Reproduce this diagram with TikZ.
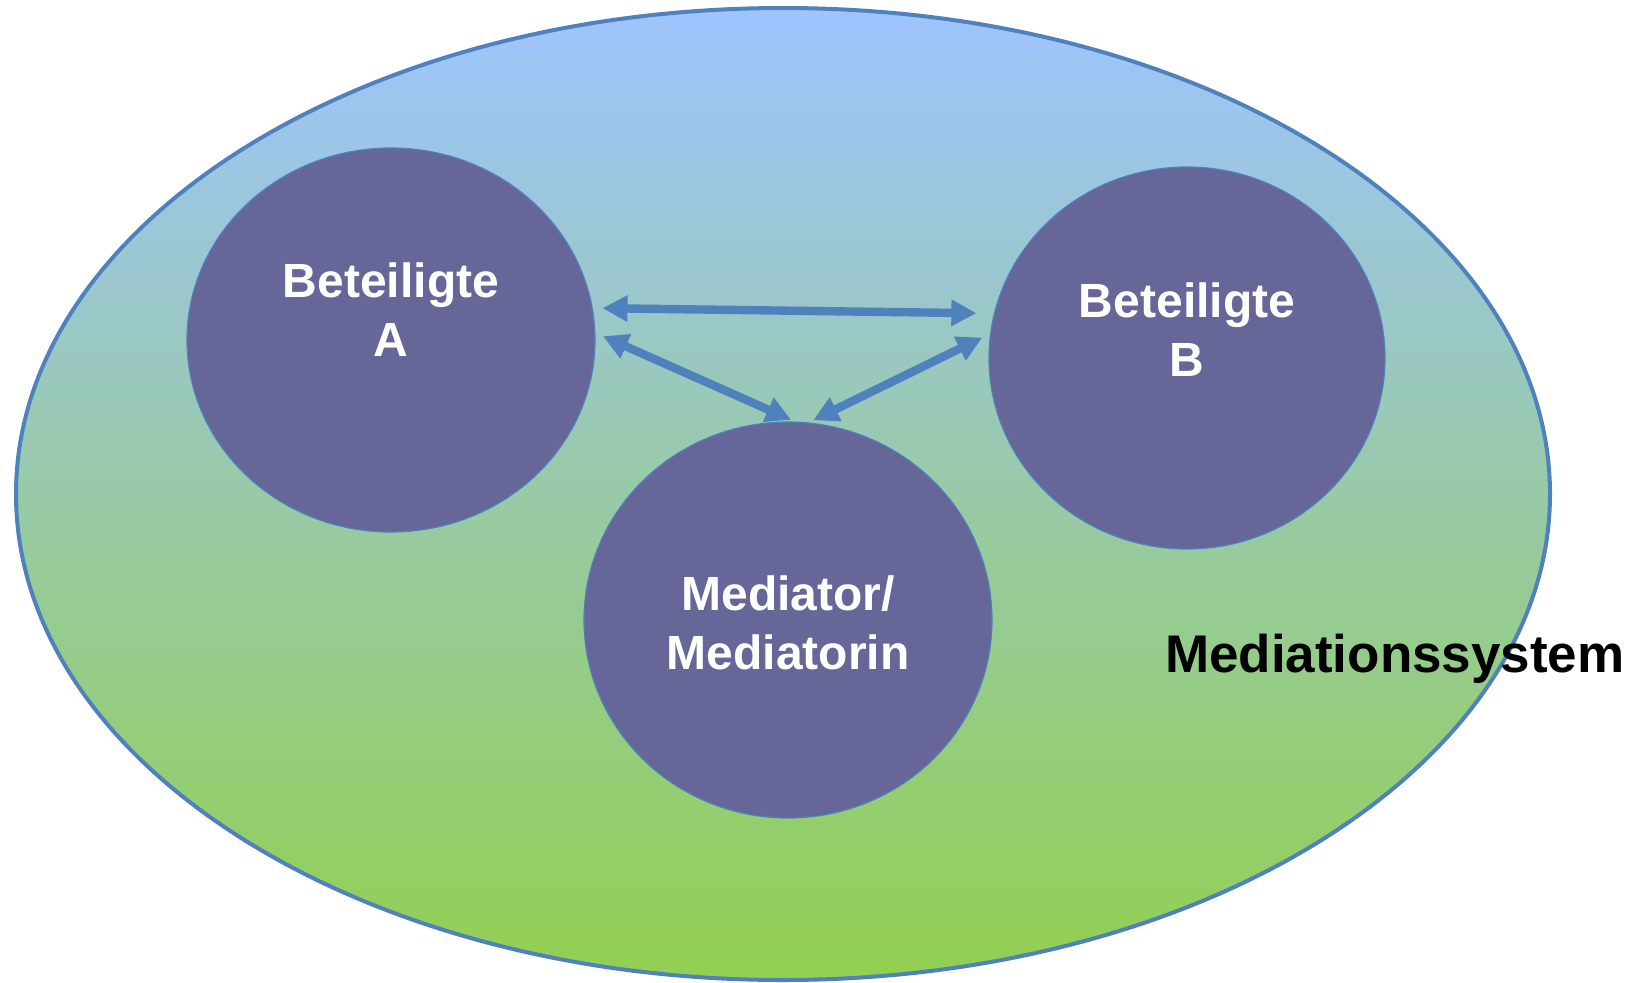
\documentclass[tikz,border=0pt]{standalone}
\usepackage{fontspec}
\setmainfont{Liberation Sans}
\usepackage{tikz}
\usetikzlibrary{shapes.geometric, calc, arrows.meta}

\definecolor{skyblue}{RGB}{158,196,255}
\definecolor{seablue}{RGB}{148,198,202}
\definecolor{grassgreen}{RGB}{146,208,80}
\definecolor{rolepurple}{RGB}{102,102,153}
\definecolor{linkblue}{RGB}{79,129,189}

\begin{document}
\begin{tikzpicture}[x=0.5pt, y=0.5pt,
        party/.style={ellipse, fill=rolepurple, draw=linkblue, line width=0.6pt, inner sep=0pt},
        names/.style={text=white, align=center, font=\bfseries\fontsize{24}{29.5}\selectfont},
        link/.style={{Triangle[length=12.5pt,width=12.5pt]}-{Triangle[length=12.5pt,width=12.5pt]}, line width=4.2pt, draw=linkblue}]
        \useasboundingbox (0,0) rectangle (1634,-982);
        % system
        \draw[draw=linkblue, line width=2pt, top color=skyblue, middle color=seablue, bottom color=grassgreen]
            (783,-494) ellipse [x radius=383.5pt, y radius=243pt];
        % roles
        \node[party, minimum width=204pt, minimum height=192pt] (A) at (391,-340) {};
        \node[party, minimum width=198pt, minimum height=191pt] (B) at (1187,-358) {};
        \node[party, minimum width=204pt, minimum height=198pt] (M) at (788,-620) {};
        \node[names] (tA) at ([yshift=15pt]A.center) {Beteiligte\\A};
        \node[names] (tB) at ([yshift=14pt]B.center) {Beteiligte\\B};
        \node[names] (tM) at ([yshift=-1.5pt]M.center) {Mediator/\\Mediatorin};
        % links
        \draw[link, shorten <=4.9pt, shorten >=8.75pt] (A.9) -- (B.167);
        \draw[link, shorten <=4.1pt, shorten >=2.1pt] (A.2) -- (M.88);
        \draw[link, shorten <=4.3pt, shorten >=2.5pt] (B.173) -- (M.84);
        \node[anchor=base west, font=\bfseries\fontsize{26.5}{30}\selectfont] (sys) at (1158,-672) {Mediationssystem};
\end{tikzpicture}
\end{document}
